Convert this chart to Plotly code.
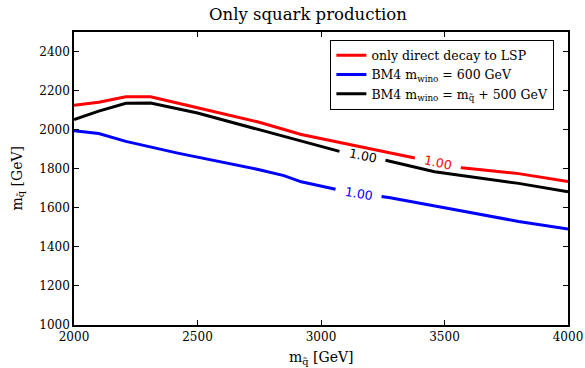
import numpy as np
import plotly.graph_objects as go

# ---- data ----
red_x = [2000, 2100, 2210, 2310, 2500, 2750, 2920, 3200, 3400, 3570, 3800, 4000]
red_y = [2125, 2140, 2168, 2168, 2112, 2038, 1975, 1900, 1850, 1805, 1775, 1735]

blue_x = [2000, 2100, 2210, 2420, 2750, 2850, 2920, 3090, 3280, 3500, 3800, 4000]
blue_y = [1995, 1980, 1940, 1880, 1795, 1765, 1733, 1687, 1651, 1600, 1530, 1492]

black_x = [2000, 2100, 2210, 2310, 2500, 2750, 3080, 3270, 3460, 3600, 3800, 4000]
black_y = [2052, 2095, 2135, 2137, 2085, 2000, 1887, 1841, 1785, 1760, 1725, 1682]

names = ["only direct decay to LSP",
         "BM4 m<sub>wino</sub> = 600 GeV",
         "BM4 m<sub>wino</sub> = m<sub>q\u0303</sub> + 500 GeV"]
level_label = "1.00"
label_x = [3473, 3152, 3168]   # contour label positions (x data)

x_ticks = [2000, 2500, 3000, 3500, 4000]
y_ticks = [1000, 1200, 1400, 1600, 1800, 2000, 2200, 2400]

colors = ["#ff0000", "#0000ff", "#000000"]

W, H = 585, 368
ML, MR, MT, MB = 74, 17, 32, 43
XR = [2000, 4000]
YR = [1000, 2500]
px_per_x = (W - ML - MR) / (XR[1] - XR[0])
px_per_y = (H - MT - MB) / (YR[1] - YR[0])
gap_half_px = 23


def with_gap(x, y, xc, hw):
    x = np.asarray(x, float)
    y = np.asarray(y, float)
    xl, xr = xc - hw, xc + hw
    xs, ys = [], []
    for xi, yi in zip(x, y):
        if xi < xl:
            xs.append(xi); ys.append(yi)
    xs.append(xl); ys.append(float(np.interp(xl, x, y)))
    xs.append(None); ys.append(None)
    xs.append(xr); ys.append(float(np.interp(xr, x, y)))
    for xi, yi in zip(x, y):
        if xi > xr:
            xs.append(xi); ys.append(yi)
    return xs, ys


fig = go.Figure()
series = [(red_x, red_y), (blue_x, blue_y), (black_x, black_y)]
annotations = []
for (xs, ys), name, col, lx in zip(series, names, colors, label_x):
    hw = gap_half_px / px_per_x
    gx, gy = with_gap(xs, ys, lx, hw)
    fig.add_trace(go.Scatter(x=gx, y=gy, mode="lines", name=name,
                             line=dict(color=col, width=3), connectgaps=False))
    ly = float(np.interp(lx, xs, ys))
    y1 = float(np.interp(lx - hw, xs, ys))
    y2 = float(np.interp(lx + hw, xs, ys))
    ang = np.degrees(np.arctan2((y1 - y2) * px_per_y, 2 * hw * px_per_x))
    annotations.append(dict(x=lx, y=ly, xref="x", yref="y", text=level_label,
                            showarrow=False, textangle=float(ang),
                            font=dict(family="DejaVu Sans", size=12.5, color=col)))

serif = "DejaVu Serif"
annotations.append(dict(x=0.473, y=1, xref="paper", yref="paper",
                        yshift=6, xanchor="center", yanchor="bottom",
                        text="Only squark production", showarrow=False,
                        font=dict(family=serif, size=16.5, color="black")))
annotations.append(dict(x=0.5, y=0, xref="paper", yref="paper",
                        yshift=-22, xanchor="center", yanchor="top",
                        text="m<sub>q\u0303</sub> [GeV]", showarrow=False,
                        font=dict(family=serif, size=14, color="black")))
annotations.append(dict(x=0, y=0.5, xref="paper", yref="paper",
                        xshift=-46, xanchor="right", yanchor="middle",
                        textangle=-90,
                        text="m<sub>q\u0303</sub> [GeV]", showarrow=False,
                        font=dict(family=serif, size=14, color="black")))

axis_common = dict(showline=True, linecolor="black", linewidth=1.5, mirror="ticks",
                   ticks="inside", ticklen=5, tickwidth=1, tickcolor="black",
                   showgrid=False, zeroline=False, automargin=False,
                   tickfont=dict(family=serif, size=12, color="black"))

fig.update_layout(
    width=W, height=H,
    margin=dict(l=ML, r=MR, t=MT, b=MB, autoexpand=False),
    paper_bgcolor="white", plot_bgcolor="white",
    xaxis=dict(range=XR, tickvals=x_ticks, ticktext=[str(v) for v in x_ticks],
               **axis_common),
    yaxis=dict(range=YR, tickvals=y_ticks, ticktext=[str(v) for v in y_ticks],
               **axis_common),
    legend=dict(x=0.519, y=0.974, xanchor="left", yanchor="top",
                bgcolor="white", bordercolor="black", borderwidth=1,
                font=dict(family=serif, size=12.5, color="black"),
                tracegroupgap=0, itemwidth=30),
    annotations=annotations,
    showlegend=True,
)

fig.write_html("out.html", config={"displayModeBar": False},
               post_script="document.body.style.margin='0';document.body.style.overflow='hidden';")
